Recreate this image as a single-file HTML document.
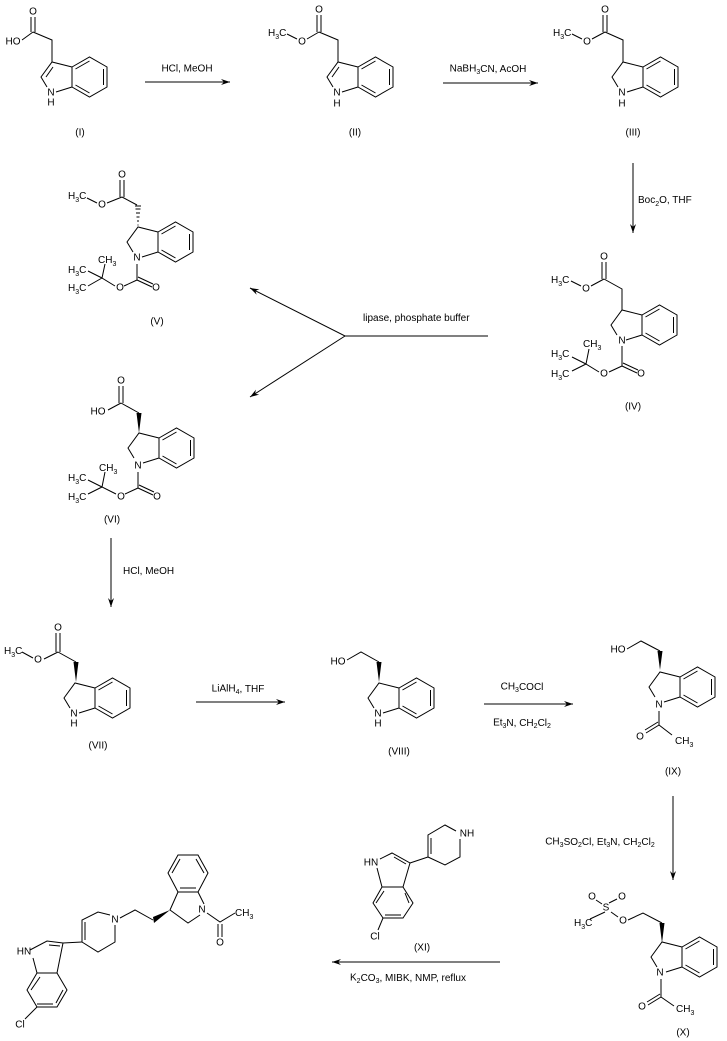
<!DOCTYPE html>
<html><head><meta charset="utf-8"><style>
html,body{margin:0;padding:0;background:#fff;}
svg{display:block;}
text{font-family:"Liberation Sans",Arial,sans-serif;font-size:10px;fill:#000;}
.a{text-anchor:middle;dominant-baseline:central;}
</style></head><body>
<svg width="727" height="1041" viewBox="0 0 727 1041" xmlns="http://www.w3.org/2000/svg">
<defs>
<marker id="ah" markerWidth="10" markerHeight="8" refX="9" refY="4" orient="auto" markerUnits="userSpaceOnUse">
<path d="M0,1 L9,4 L0,7 L3,4 Z" fill="#000"/>
</marker>
<g id="ind" fill="none" stroke="#000" stroke-width="1">
<path d="M0,0 L17.5,-10 L35,0 L35,20 L17.5,30 L0,20 Z"/>
<path d="M3.5,2 L17.5,-6 M31.5,2 L31.5,18 M17.5,26 L3.5,18"/>
<path d="M0,0 L-20,-5 L-31,10 L-25,20 M-16,25 L0,20"/>
</g>
<g id="indl" fill="none" stroke="#000" stroke-width="1">
<use href="#ind"/>
<path d="M-19,0 L-26,10"/>
</g>
</defs>
<g fill="none" stroke="#000" stroke-width="1">
<path d="M145,82 L230,82" marker-end="url(#ah)"/>
<path d="M443,83 L538,83" marker-end="url(#ah)"/>
<path d="M633,163 L633,233" marker-end="url(#ah)"/>
<path d="M488,336 L345,336 L250,288" marker-end="url(#ah)"/>
<path d="M345,336 L250,397" marker-end="url(#ah)"/>
<path d="M111,538 L111,607" marker-end="url(#ah)"/>
<path d="M196,702 L285,702" marker-end="url(#ah)"/>
<path d="M484,704 L573,704" marker-end="url(#ah)"/>
<path d="M673,796 L673,880" marker-end="url(#ah)"/>
<path d="M500,962 L332,962" marker-end="url(#ah)"/>

<use href="#indl" x="72" y="67"/>
<path d="M52,62 L52,40 L33,32 M31,32 L31,17 M35,32 L35,17 M33,32 L22,40"/>
<use href="#indl" x="358" y="67"/>
<path d="M338,62 L338,40 L319,32 M317,32 L317,15 M321,32 L321,15 M319,32 L307,39 M297,39 L287,34"/>
<use href="#ind" x="643" y="67"/>
<path d="M623,62 L623,40 L605,32 M603,32 L603,15 M607,32 L607,15 M605,32 L592,39 M582,39 L572,34"/>
<use href="#ind" x="642" y="315"/>
<path d="M622,310 L622,289 L604,279 M602,279 L602,262 M606,279 L606,262 M604,279 L591,286 M581,286 L571,281"/>
<path d="M622,346 L622,366 L637,373 M623,363 L638,370 M622,366 L609,372 M599,372 L586,364 L589,349 M586,364 L572,357 M586,364 L572,371"/>
<use href="#ind" x="158" y="232"/>
<path d="M122,197 L107,203 M97,203 L87,198 M120,197 L120,180 M124,197 L124,180"/>
<path d="M137,205 L122,197"/>
<path d="M137,264 L137,280 L152,287 M138,277 L153,284 M137,280 L124,286 M115,286 L102,278 L105,264 M102,278 L88,271 M102,278 L88,286"/>
<use href="#ind" x="159" y="438"/>
<path d="M139,413 L121,403 M119,403 L119,386 M123,403 L123,386 M121,403 L108,410"/>
<path d="M138,472 L138,488 L153,495 M139,485 L154,492 M138,488 L125,494 M116,494 L102,487 L105,472 M102,487 L88,480 M102,487 L88,494"/>
<use href="#ind" x="95" y="688"/>
<path d="M76,662 L58,652 M56,652 L56,633 M60,652 L60,633 M58,652 L44,659 M33,658 L22,652"/>
<use href="#ind" x="399" y="688"/>
<path d="M379,662 L361,652 L347,660"/>
<use href="#ind" x="680" y="677"/>
<path d="M660,651 L641,641 L627,649"/>
<path d="M659,711 L659,725 L646,733 M658,722 L645,730 M659,725 L672,735"/>
<use href="#ind" x="682" y="947"/>
<path d="M662,923 L643,913 L628,920 M618,917 L611,912 M602,904 L596,900 M609,903 L617,899 M605,912 L590,919"/>
<path d="M661,979 L661,997 L648,1005 M660,994 L647,1002 M661,997 L674,1006"/>
<path d="M403,887 L413,903 L403,918 L383,918 L373,903 L382,887 Z"/>
<path d="M405,893 L409,903 M401,915 L385,915 M376,903 L384,891"/>
<path d="M403,887 L410,863 L392,853 L380,859 M377,868 L382,887 M406,864 L394,857"/>
<path d="M410,863 L428,857 L428,835 L445,825 L456,831 M460,839 L460,857 L445,865 L428,857 M431,838 L431,854"/>
<path d="M383,918 L378,930"/>
<path d="M178,892 L168,873 L178,855 L198,855 L208,873 L198,892 Z"/>
<path d="M172,873 L180,859 M196,859 L204,873 M196,888 L180,888"/>
<path d="M178,892 L170,910 L188,923 L200,915 M204,904 L198,892"/>
<path d="M207,913 L220,922 L235,913 M218,924 L218,937 M222,924 L222,937"/>
<path d="M153,920 L135,910 L120,918"/>
<path d="M110,915 L98,912 L82,920 L82,942 L98,952 L115,942 L115,925 M85,922 L85,940"/>
<path d="M82,942 L63,943 L47,941 L30,950 M33,958 L37,973 L57,973 L63,943 M60,946 L49,945"/>
<path d="M57,973 L67,990 L57,1007 L37,1007 L27,990 L37,973 M63,990 L56,1003 M40,977 L31,990 M37,1004 L53,1004"/>
<path d="M37,1007 L25,1019"/>
</g>
<g fill="#000" stroke="none">
<polygon points="139,433 136.5,413 141.5,413"/>
<polygon points="76,682 73.5,662 78.5,662"/>
<polygon points="379,682 376.5,662 381.5,662"/>
<polygon points="660,670 657.5,651 662.5,651"/>
<polygon points="662,943 659.5,923 664.5,923"/>
<polygon points="170,910 153,917 154,923"/>
</g>
<g stroke="#000" stroke-width="1">
<path d="M137.5,225 L138.5,225 M137,221 L139,221 M136.5,217 L139.5,217 M136,213 L140,213 M135.5,209 L140.5,209 M135,206 L141,206"/>
</g>

<text class="a" x="33" y="12">O</text><text class="a" x="13" y="42">HO</text>
<text class="a" x="51" y="93">N</text><text class="a" x="51" y="103">H</text>
<text class="a" x="80" y="133">(I)</text>

<text class="a" x="319" y="10">O</text><text class="a" x="302" y="42">O</text>
<text x="268" y="36">H<tspan font-size="7" dy="3">3</tspan><tspan dy="-3">C</tspan></text>
<text class="a" x="337" y="93">N</text><text class="a" x="337" y="104">H</text>
<text class="a" x="355" y="133">(II)</text>

<text class="a" x="605" y="10">O</text><text class="a" x="587" y="42">O</text>
<text x="553" y="36">H<tspan font-size="7" dy="3">3</tspan><tspan dy="-3">C</tspan></text>
<text class="a" x="622" y="93">N</text><text class="a" x="622" y="104">H</text>
<text class="a" x="633" y="133">(III)</text>

<text class="a" x="604" y="257">O</text><text class="a" x="586" y="289">O</text>
<text x="551" y="283">H<tspan font-size="7" dy="3">3</tspan><tspan dy="-3">C</tspan></text>
<text class="a" x="622" y="341">N</text>
<text x="583" y="347">CH<tspan font-size="7" dy="3">3</tspan></text>
<text x="551" y="357">H<tspan font-size="7" dy="3">3</tspan><tspan dy="-3">C</tspan></text>
<text x="551" y="377">H<tspan font-size="7" dy="3">3</tspan><tspan dy="-3">C</tspan></text>
<text class="a" x="604" y="374">O</text><text class="a" x="641" y="374">O</text>
<text class="a" x="633" y="407">(IV)</text>

<text class="a" x="122" y="175">O</text><text class="a" x="102" y="205">O</text>
<text x="68" y="199">H<tspan font-size="7" dy="3">3</tspan><tspan dy="-3">C</tspan></text>
<text class="a" x="137" y="258">N</text>
<text x="98" y="263">CH<tspan font-size="7" dy="3">3</tspan></text>
<text x="68" y="273">H<tspan font-size="7" dy="3">3</tspan><tspan dy="-3">C</tspan></text>
<text x="68" y="291">H<tspan font-size="7" dy="3">3</tspan><tspan dy="-3">C</tspan></text>
<text class="a" x="120" y="288">O</text><text class="a" x="156" y="288">O</text>
<text class="a" x="157" y="322">(V)</text>

<text class="a" x="121" y="381">O</text><text class="a" x="98" y="412">HO</text>
<text class="a" x="138" y="466">N</text>
<text x="99" y="471">CH<tspan font-size="7" dy="3">3</tspan></text>
<text x="68" y="481">H<tspan font-size="7" dy="3">3</tspan><tspan dy="-3">C</tspan></text>
<text x="68" y="500">H<tspan font-size="7" dy="3">3</tspan><tspan dy="-3">C</tspan></text>
<text class="a" x="121" y="497">O</text><text class="a" x="157" y="497">O</text>
<text class="a" x="112" y="520">(VI)</text>

<text class="a" x="58" y="628">O</text><text class="a" x="38" y="660">O</text>
<text x="4" y="654">H<tspan font-size="7" dy="3">3</tspan><tspan dy="-3">C</tspan></text>
<text class="a" x="74" y="714">N</text><text class="a" x="74" y="724">H</text>
<text class="a" x="98" y="746">(VII)</text>

<text class="a" x="338" y="662">HO</text>
<text class="a" x="378" y="714">N</text><text class="a" x="378" y="724">H</text>
<text class="a" x="399" y="752">(VIII)</text>

<text class="a" x="618" y="650">HO</text>
<text class="a" x="659" y="705">N</text>
<text class="a" x="640" y="737">O</text>
<text x="675" y="744">CH<tspan font-size="7" dy="3">3</tspan></text>
<text class="a" x="673" y="772">(IX)</text>

<text class="a" x="592" y="897">O</text><text class="a" x="622" y="897">O</text>
<text class="a" x="606" y="908">S</text><text class="a" x="623" y="921">O</text>
<text x="574" y="926">H<tspan font-size="7" dy="3">3</tspan><tspan dy="-3">C</tspan></text>
<text class="a" x="660" y="973">N</text>
<text class="a" x="642" y="1007">O</text>
<text x="676" y="1012">CH<tspan font-size="7" dy="3">3</tspan></text>
<text class="a" x="683" y="1033">(X)</text>

<text class="a" x="467" y="834">NH</text>
<text class="a" x="371" y="863">HN</text>
<text class="a" x="375" y="937">Cl</text>
<text class="a" x="422" y="948">(XI)</text>

<text class="a" x="202" y="910">N</text>
<text x="235" y="916">CH<tspan font-size="7" dy="3">3</tspan></text>
<text class="a" x="220" y="943">O</text>
<text class="a" x="115" y="920">N</text>
<text class="a" x="24" y="952">HN</text>
<text class="a" x="20" y="1025">Cl</text>

<text class="a" x="187" y="69">HCl, MeOH</text>
<text class="a" x="488" y="69">NaBH<tspan font-size="7" dy="3">3</tspan><tspan dy="-3">CN, AcOH</tspan></text>
<text x="638" y="203">Boc<tspan font-size="7" dy="3">2</tspan><tspan dy="-3">O, THF</tspan></text>
<text x="363" y="321">lipase, phosphate buffer</text>
<text x="123" y="574">HCl, MeOH</text>
<text class="a" x="238" y="689">LiAlH<tspan font-size="7" dy="3">4</tspan><tspan dy="-3">, THF</tspan></text>
<text class="a" x="522" y="687">CH<tspan font-size="7" dy="3">3</tspan><tspan dy="-3">COCl</tspan></text>
<text class="a" x="522" y="723">Et<tspan font-size="7" dy="3">3</tspan><tspan dy="-3">N, CH</tspan><tspan font-size="7" dy="3">2</tspan><tspan dy="-3">Cl</tspan><tspan font-size="7" dy="3">2</tspan></text>
<text class="a" x="600" y="842">CH<tspan font-size="7" dy="3">3</tspan><tspan dy="-3">SO</tspan><tspan font-size="7" dy="3">2</tspan><tspan dy="-3">Cl, Et</tspan><tspan font-size="7" dy="3">3</tspan><tspan dy="-3">N, CH</tspan><tspan font-size="7" dy="3">2</tspan><tspan dy="-3">Cl</tspan><tspan font-size="7" dy="3">2</tspan></text>
<text class="a" x="408" y="978">K<tspan font-size="7" dy="3">2</tspan><tspan dy="-3">CO</tspan><tspan font-size="7" dy="3">3</tspan><tspan dy="-3">, MIBK, NMP, reflux</tspan></text>
</svg>
</body></html>
